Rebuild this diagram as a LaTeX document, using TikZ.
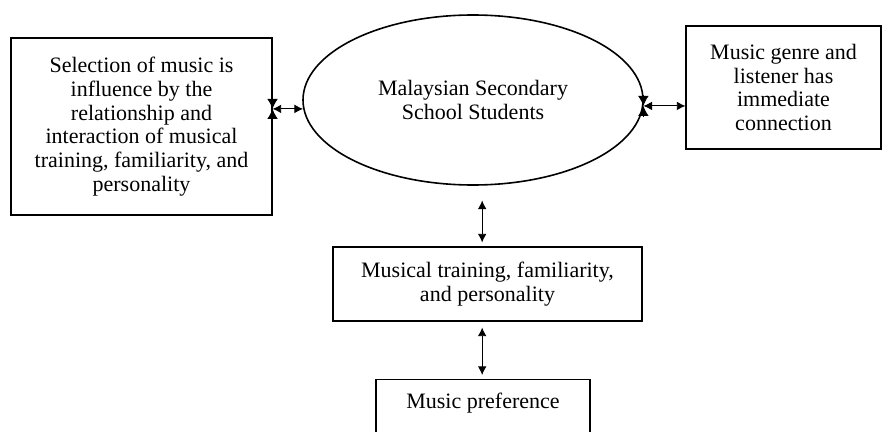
\documentclass[tikz,border=0pt]{standalone}
\usepackage{fontspec}
\setmainfont{Liberation Serif}
\usetikzlibrary{shapes.geometric, arrows.meta}

\tikzset{
  box/.style={draw, line width=0.8pt, align=center, inner sep=0pt,
    font=\fontsize{16.5}{17.8}\selectfont},
  oval/.style={box, ellipse, line width=1.2pt},
  conn/.style={<->, >={Latex[length=6.5pt,width=6.5pt]}, line width=0.7pt},
  tie/.style={-{Latex[length=7.5pt,width=8pt]}, line width=0.7pt}
}

\begin{document}
\begin{tikzpicture}[x=0.75pt, y=-0.75pt]
\useasboundingbox (0,0) rectangle (882,432);

\node[box, minimum width=195.75pt, minimum height=132.75pt] (sel) at (141.5,126.5)
  {Selection of music is\\influence by the\\relationship and\\interaction of musical\\training, familiarity, and\\personality};
\node[oval, minimum width=255pt, minimum height=127.5pt] (stud) at (473,100)
  {Malaysian Secondary\\School Students};
\node[box, minimum width=146.25pt, minimum height=92.25pt] (conn) at (783.5,87.5)
  {Music genre and\\listener has\\immediate\\connection};
\node[box, minimum width=231.75pt, minimum height=55.5pt] (train) at (487.5,284)
  {Musical training, familiarity,\\and personality};
\node[box, minimum width=160.5pt, anchor=north, inner ysep=10pt, text depth=40pt] (pref) at (483,379)
  {Music preference};

% side links
\draw[conn] (sel.east |- stud.183) -- (stud.183);
\draw[tie] ([yshift=8pt]sel.east |- stud.183) -- ++(0pt,-8pt);
\draw[tie] ([yshift=-8pt]sel.east |- stud.183) -- ++(0pt,8pt);
\draw[conn] (stud.358) -- (conn.west |- stud.358);
\draw[tie] ([yshift=8pt]stud.358) -- ++(0pt,-8pt);
\draw[tie] ([yshift=-8pt]stud.358) -- ++(0pt,8pt);

% down the middle
\draw[conn, shorten <=11pt, shorten >=3pt] ([xshift=-4pt]train.north |- stud.south) -- ([xshift=-4pt]train.north);
\draw[conn, shorten <=4.5pt, shorten >=3pt] ([xshift=-4pt]train.south) -- ([xshift=-4pt]train.south |- pref.north);
\end{tikzpicture}
\end{document}
